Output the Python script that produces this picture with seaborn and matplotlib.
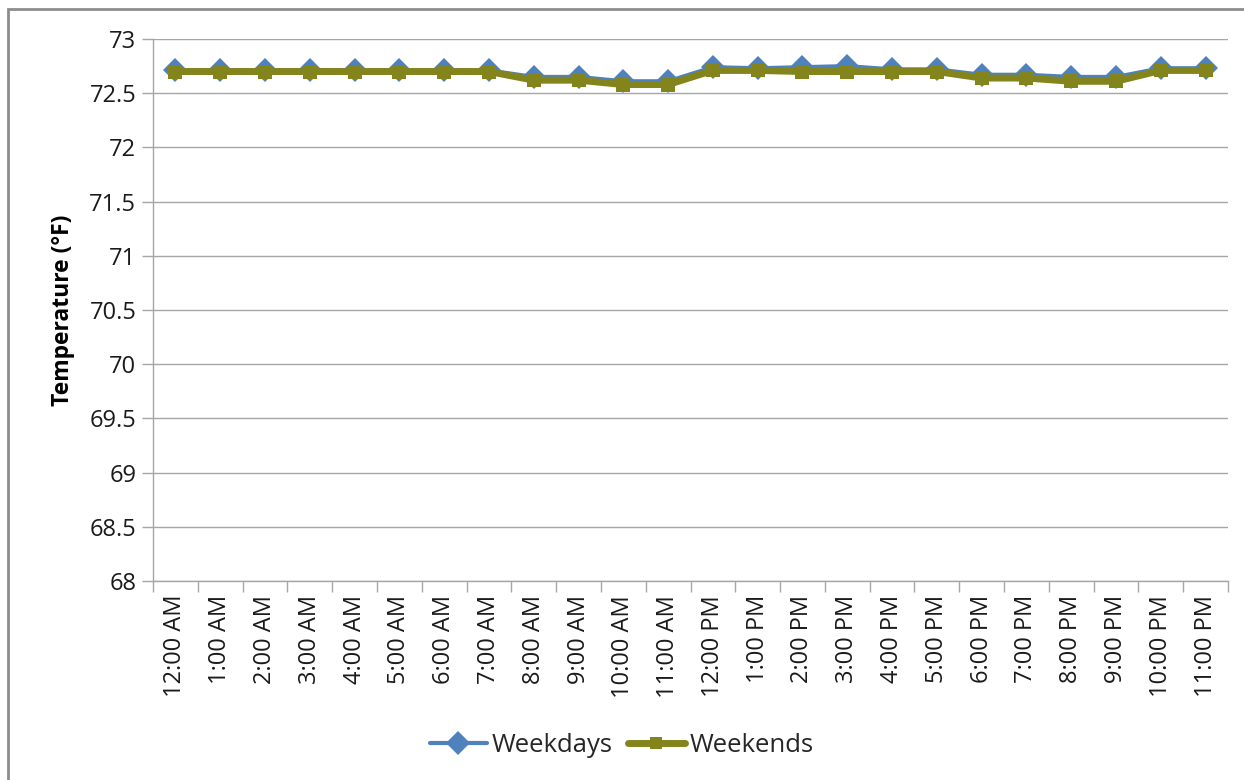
import matplotlib
matplotlib.use("Agg")
import matplotlib.pyplot as plt
from matplotlib.lines import Line2D
from matplotlib.patches import Rectangle
import numpy as np
import pandas as pd
import seaborn as sns

# Hourly average indoor temperature (°F)
hours = ["12:00 AM", "1:00 AM", "2:00 AM", "3:00 AM", "4:00 AM", "5:00 AM",
         "6:00 AM", "7:00 AM", "8:00 AM", "9:00 AM", "10:00 AM", "11:00 AM",
         "12:00 PM", "1:00 PM", "2:00 PM", "3:00 PM", "4:00 PM", "5:00 PM",
         "6:00 PM", "7:00 PM", "8:00 PM", "9:00 PM", "10:00 PM", "11:00 PM"]
weekdays = [72.71, 72.71, 72.71, 72.71, 72.71, 72.71, 72.71, 72.71,
            72.65, 72.65, 72.61, 72.61, 72.74, 72.73, 72.74, 72.75,
            72.72, 72.72, 72.67, 72.67, 72.65, 72.65, 72.73, 72.73]
weekends = [72.70, 72.70, 72.70, 72.70, 72.70, 72.70, 72.70, 72.70,
            72.62, 72.62, 72.58, 72.58, 72.71, 72.71, 72.70, 72.70,
            72.70, 72.70, 72.64, 72.64, 72.61, 72.61, 72.71, 72.71]
y_ticks = [68, 68.5, 69, 69.5, 70, 70.5, 71, 71.5, 72, 72.5, 73]

sns.set_theme(style="white")
plt.rcParams["font.family"] = ["Open Sans", "DejaVu Sans"]

blue = "#4F81BD"
olive = "#84841C"
grid_c = "#A6A6A6"
text_c = "#1a1a1a"

df = pd.DataFrame({
    "pos": list(range(len(hours))) * 2,
    "temp": weekdays + weekends,
    "series": ["Weekdays"] * len(hours) + ["Weekends"] * len(hours),
})

fig = plt.figure(figsize=(12.44, 7.8), dpi=100)
ax = fig.add_axes([153 / 1244, 1 - 581 / 780, (1228 - 153) / 1244, (581 - 39) / 780])

sns.lineplot(data=df[df.series == "Weekdays"], x="pos", y="temp", ax=ax,
             color=blue, linewidth=3.0, marker="D", markersize=12,
             markeredgewidth=0, zorder=3, legend=False)
sns.lineplot(data=df[df.series == "Weekends"], x="pos", y="temp", ax=ax,
             color=olive, linewidth=5.0, marker="s", markersize=10,
             markeredgewidth=0, zorder=4, legend=False)

n = len(hours)
ax.set_xlim(-0.5, n - 0.5)
ax.set_ylim(68, 73)
ax.set_yticks(y_ticks)
ax.set_yticklabels([f"{t:g}" for t in y_ticks], fontsize=17, color=text_c)

# category labels centred, tick marks on category boundaries
ax.set_xticks(np.arange(n))
ax.set_xticklabels(hours, rotation=90, fontsize=17, color=text_c)
ax.set_xticks(np.arange(-0.5, n, 1.0), minor=True)
ax.tick_params(axis="x", which="major", length=0, pad=10)
ax.tick_params(axis="x", which="minor", length=8, width=1, color=grid_c, direction="out")
ax.tick_params(axis="y", which="major", length=8, width=1, color=grid_c, direction="out", pad=4)
ax.xaxis.set_ticks_position("bottom")
ax.yaxis.set_ticks_position("left")

ax.grid(axis="y", color=grid_c, linewidth=1)
ax.grid(axis="x", visible=False)
for side in ("top", "right"):
    ax.spines[side].set_visible(False)
for side in ("left", "bottom"):
    ax.spines[side].set_color(grid_c)
    ax.spines[side].set_linewidth(1)

ax.set_xlabel("")
ax.set_ylabel("Temperature (°F)", fontsize=16.5, fontweight="bold", labelpad=10,
              color="black")

handles = [
    Line2D([], [], color=blue, linewidth=3.0, marker="D", markersize=12, markeredgewidth=0),
    Line2D([], [], color=olive, linewidth=5.0, marker="s", markersize=9, markeredgewidth=0),
]
fig.legend(handles, ["Weekdays", "Weekends"], loc="center", ncol=2,
           bbox_to_anchor=(0.5, 1 - 745 / 780), frameon=False, fontsize=18.5,
           handlelength=2.2, handletextpad=0.2, columnspacing=0.6)

# chart-area frame
fig.patches.append(Rectangle((8 / 1244, -0.1), 1.2, 1 - 9 / 780 + 0.1,
                             transform=fig.transFigure, fill=False,
                             edgecolor="#8C8C8C", linewidth=2.0))

fig.savefig("out.png", dpi=100)
